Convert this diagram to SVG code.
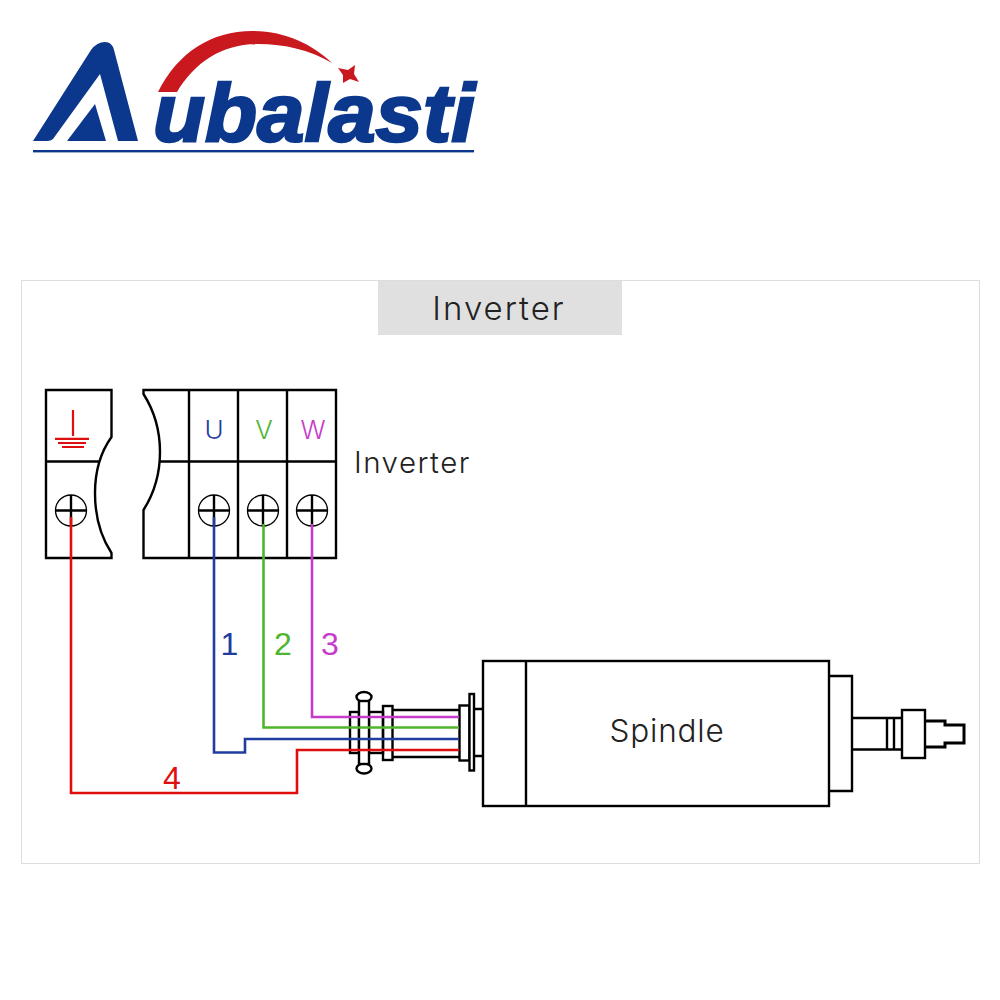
<svg xmlns="http://www.w3.org/2000/svg" width="1000" height="1000" viewBox="0 0 1000 1000">
<style>
.k{fill:none;stroke:#000;stroke-width:2.400}
.k1{fill:none;stroke:#000;stroke-width:1.300}
.b{fill:#fff;stroke:#000;stroke-width:2.400}
.w{fill:none;stroke-width:2.600;stroke-linejoin:miter}
.t{font-family:Inter,"Noto Sans","Liberation Sans",sans-serif;font-weight:300;fill:#222}
.n{font-family:"Liberation Sans",Arial,sans-serif;text-anchor:middle}
.blue{stroke:#1f3ca0}.green{stroke:#4fb52f}.mag{stroke:#c53ccb}.red{stroke:#e00f0f}
</style>
<rect width="1000" height="1000" fill="#fff"/>
<g id="logo">
<path fill="#0b388c" d="M33 141L91 50Q97 42 105 42Q112 42 114 50L138 141H118L100 74L53 139Q51 141 47 141Z"/>
<path fill="#0b388c" d="M67 141L95 104L106 141Z"/>
<path fill="#c9191f" d="M158 92C178 52 212 31 252 31C285 31 312 44 332 63C310 50 285 44 258 44C222 44 195 62 177 92Z"/>
<path fill="#c9191f" d="M338 68L348 70L355 65L354 74L359 82L350 79L343 83L343 75Z"/>
<text x="153" y="141" font-family="Liberation Sans,Arial,sans-serif" font-size="82" font-weight="700" font-style="italic" fill="#0b388c" stroke="#0b388c" stroke-width="2.500" textLength="322" lengthAdjust="spacingAndGlyphs">ubalasti</text>
<rect x="33" y="150" width="441" height="2.400" fill="#0b388c"/>
</g>
<rect id="frame" x="21.500" y="280.500" width="958" height="583" fill="none" stroke="#ddd" stroke-width="1"/>
<g id="header">
<rect x="378" y="281" width="244" height="54" fill="#e0e0e0"/>
<text class="t" x="499" y="320" font-size="33" text-anchor="middle" letter-spacing="2">Inverter</text>
</g>
<g id="ground-terminal">
<path class="k" d="M46 390H111.500V437Q95 460 95 493Q95 528 111.500 553V558H46Z"/>
<path class="k" d="M46 461.500H99"/>
<circle class="k1" cx="71" cy="510.500" r="15.500"/>
<path class="k" d="M71 495V526M55.500 510.500H86.500"/>
<path fill="none" stroke="#e00f0f" stroke-width="2.200" d="M73 410V436M55 438.800H89M58 443H86M62 447H84"/>
</g>
<g id="inverter-terminals">
<path class="k" d="M143.500 390V394Q160 420 160 452Q160 484 143.500 510V558H336V390Z"/>
<path class="k" d="M160 461.500H336M189 390V558M238 390V558M287 390V558"/>
<circle class="k1" cx="214" cy="510.500" r="15.500"/>
<circle class="k1" cx="263" cy="510.500" r="15.500"/>
<circle class="k1" cx="312" cy="510.500" r="15.500"/>
<path class="k" d="M214 495V526M198.500 510.500H229.500M263 495V526M247.500 510.500H278.500M312 495V526M296.500 510.500H327.500"/>
<text x="214" y="439" font-family="Inter,Noto Sans,sans-serif" font-weight="300" font-size="26" text-anchor="middle" fill="#1f3ca0">U</text>
<text x="264" y="439" font-family="Inter,Noto Sans,sans-serif" font-weight="300" font-size="26" text-anchor="middle" fill="#4fb52f">V</text>
<text x="313" y="439" font-family="Inter,Noto Sans,sans-serif" font-weight="300" font-size="26" text-anchor="middle" fill="#c53ccb">W</text>
<text class="t" x="354" y="472.500" font-size="29.500" letter-spacing="1.500">Inverter</text>
</g>
<g id="connector-gland">
<rect class="k" x="350" y="712" width="9" height="41"/>
<rect class="k" x="369" y="712" width="14" height="41"/>
<ellipse class="b" cx="364" cy="697" rx="7.500" ry="5"/>
<ellipse class="b" cx="364" cy="768.500" rx="7.500" ry="5"/>
<rect class="b" x="359" y="701" width="10" height="63"/>
<rect class="k" x="383" y="706" width="9.500" height="54"/>
<path class="k" d="M392.500 710H459.500M392.500 757H459.500"/>
<rect class="k" x="459.500" y="705.500" width="10" height="55"/>
<rect class="b" x="469.500" y="694" width="4.500" height="76.500"/>
<path class="k" d="M474 709H483M474 756H483"/>
</g>
<g id="spindle">
<rect class="k" x="483" y="661" width="346" height="145"/>
<path class="k" d="M526 661V806"/>
<path class="k" d="M829 676H852V791H829"/>
<path class="k" d="M852 718H902M852 749.500H902M887 718V749.500M894 718V749.500"/>
<rect class="k" x="902" y="710" width="23" height="48"/>
<path fill="none" stroke="#000" stroke-width="3" d="M925 721H945V725H964V743H945V747H925"/>
<text class="t" x="667" y="742" font-size="31.500" text-anchor="middle" letter-spacing="0.800">Spindle</text>
</g>
<g id="connectors">
<path class="w mag" d="M312 524V717H459"/>
<path class="w green" d="M263.500 524V727.500H459"/>
<path class="w blue" d="M214 517V752.500H245V739H459"/>
<path class="w red" d="M71 517V793H297V750H459"/>
</g>
<g id="wire-labels" font-size="32">
<text class="n" x="229.500" y="654.500" fill="#1f3ca0">1</text>
<text class="n" x="283" y="654.500" fill="#4fb52f">2</text>
<text class="n" x="330" y="654.500" fill="#c53ccb">3</text>
<text class="n" x="172" y="789" fill="#e00f0f">4</text>
</g>
</svg>
